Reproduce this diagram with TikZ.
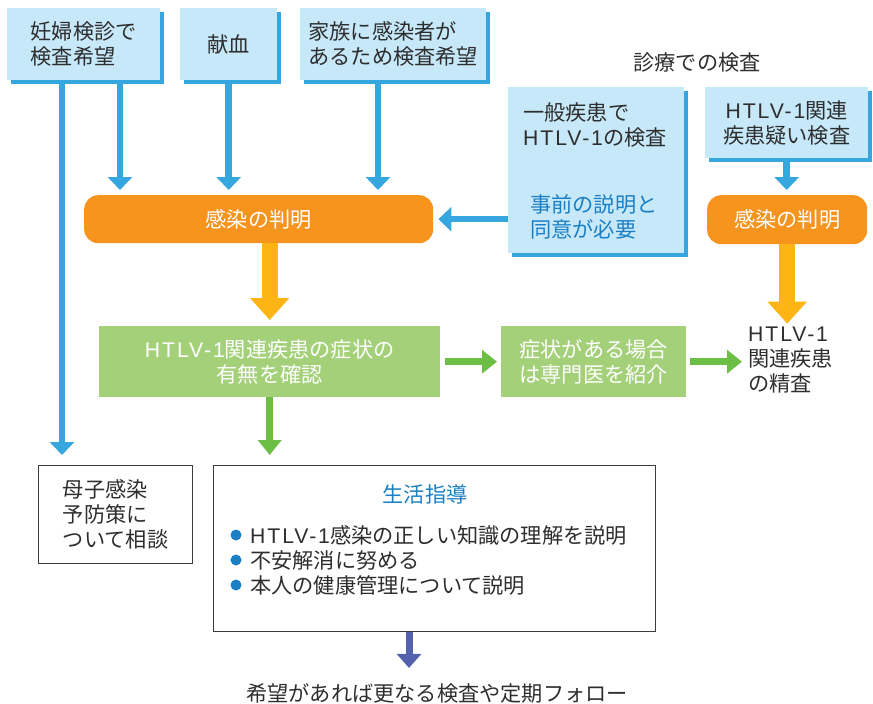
\documentclass[tikz,border=0pt]{standalone}
\usepackage{fontspec}
\setmainfont{Noto Sans CJK JP}
\newfontfamily\lat[LetterSpace=9]{Liberation Sans}
\newcommand{\htlv}{{\lat HTLV-1}}
\usetikzlibrary{arrows.meta,shadows,calc}
\definecolor{lb}{HTML}{C6E8F9}
\definecolor{shb}{HTML}{35A6DE}
\definecolor{org}{HTML}{F7941E}
\definecolor{yel}{HTML}{FDB515}
\definecolor{gbox}{HTML}{A4D07A}
\definecolor{gar}{HTML}{6DBE45}
\definecolor{pur}{HTML}{5462AD}
\definecolor{tblue}{HTML}{1B7FC4}
\definecolor{txt}{HTML}{2E2E2E}
\definecolor{brd}{HTML}{3C3C3C}
\begin{document}
\begin{tikzpicture}[x=1pt,y=-1pt,
  every node/.style={font=\fontsize{21.2}{25}\selectfont, text=txt, inner sep=0pt},
  bbox/.style={fill=lb, draw=none, anchor=north west,
    drop shadow={shadow xshift=3.5pt,shadow yshift=-3.5pt,fill=shb,opacity=1}},
  obox/.style={fill=org, draw=none, anchor=north west, rounded corners=14pt, text=white},
  gbx/.style={fill=gbox, draw=none, anchor=north west, text=white, align=center},
  wbox/.style={draw=brd, line width=1.2pt, fill=white, anchor=north west},
  barrow/.style={draw=shb, line width=6.5pt, -{Triangle[width=24pt,length=13pt]}},
  yarrow/.style={draw=yel, line width=16pt, -{Triangle[width=38pt,length=22pt]}},
  garrow/.style={draw=gar, line width=7pt, -{Triangle[width=23pt,length=15pt]}},
  parrow/.style={draw=pur, line width=7pt, -{Triangle[width=24pt,length=14pt]}}]
\useasboundingbox (0,0) rectangle (873,704);

% top boxes
\node[bbox, minimum width=153pt, minimum height=72pt, align=left] (b1) at (7,8) {妊婦検診で\\検査希望};
\node[bbox, minimum width=97pt, minimum height=72pt] (b2) at (180,8) {献血};
\node[bbox, minimum width=186pt, minimum height=72pt, align=left] (b3) at (300,8) {家族に感染者が\\あるため検査希望};

\node (title) at (697,62) {診療での検査};
\node[bbox, minimum width=176pt, minimum height=166pt] (b4) at (508,87) {};
\node[anchor=west, align=left] (b4a) at (523,124.5) {一般疾患で\\\htlv の検査};
\node[anchor=west, align=left, text=tblue] (b4b) at (530,216.5) {事前の説明と\\同意が必要};
\node[bbox, minimum width=163pt, minimum height=71pt, align=center] (b5) at (705,87) {\htlv 関連\\疾患疑い検査};

% orange
\node[obox, minimum width=349pt, minimum height=48pt] (o1) at (84,195) {感染の判明};
\node[obox, minimum width=160pt, minimum height=49pt] (o2) at (707,195) {感染の判明};

% green
\node[gbx, minimum width=341pt, minimum height=71pt] (g1) at (99,326) {\htlv 関連疾患の症状の\\有無を確認};
\node[gbx, minimum width=185pt, minimum height=71pt] (g2) at (501,326) {症状がある場合\\は専門医を紹介};
\node[anchor=west, align=left] (r) at (748,360) {\htlv\\関連疾患\\の精査};

% bottom boxes
\node[wbox, minimum width=154pt, minimum height=98pt, align=left] (lbox) at (38,465) {母子感染\\予防策に\\ついて相談};
\node[wbox, minimum width=442pt, minimum height=166pt] (big) at (213,465) {};
\node[text=tblue] (sh) at (425,494) {生活指導};
\node[anchor=west] (t1) at (250,535) {\htlv 感染の正しい知識の理解を説明};
\node[anchor=west] (t2) at (250,560) {不安解消に努める};
\node[anchor=west] (t3) at (250,585) {本人の健康管理について説明};
\foreach \t in {t1,t2,t3} \fill[tblue] ([xshift=-14pt]\t.west) circle (5.5pt);
\node (bt) at (437,693) {希望があれば更なる検査や定期フォロー};

% helper coordinates
\coordinate (xa) at (62,0);
\coordinate (xb) at (120,0);
\coordinate (xc) at (378,0);
\coordinate (xp) at (409,0);

% blue arrows
\draw[barrow, shorten >=10pt] (b1.south -| xa) -- (lbox.north -| xa);
\draw[barrow, shorten >=5pt] (b1.south -| xb) -- (o1.north -| xb);
\draw[barrow, shorten >=5pt] (b2.south) -- (o1.north -| b2.south);
\draw[barrow, shorten >=5pt] (b3.south -| xc) -- (o1.north -| xc);
\draw[barrow, shorten >=5pt] (b5.south) -- (o2.north -| b5.south);
\draw[barrow, shorten >=5pt] (o1.east -| b4.west) -- (o1.east);

% yellow arrows
\draw[yarrow, shorten >=6pt] (o1.south -| g1.north) -- (g1.north);
\draw[yarrow, shorten >=3pt] (o2.south) -- (o2.south |- r.north);

% green arrows
\draw[garrow, shorten <=5pt, shorten >=4pt] (g1.east) -- (g2.west);
\draw[garrow, shorten <=4pt, shorten >=6pt] (g2.east) -- (g2.east -| r.west);
\draw[garrow, shorten >=10pt] (g1.south) -- (big.north -| g1.south);

% purple
\draw[parrow, shorten >=15pt] (big.south -| xp) -- (bt.north -| xp);
\end{tikzpicture}
\end{document}
